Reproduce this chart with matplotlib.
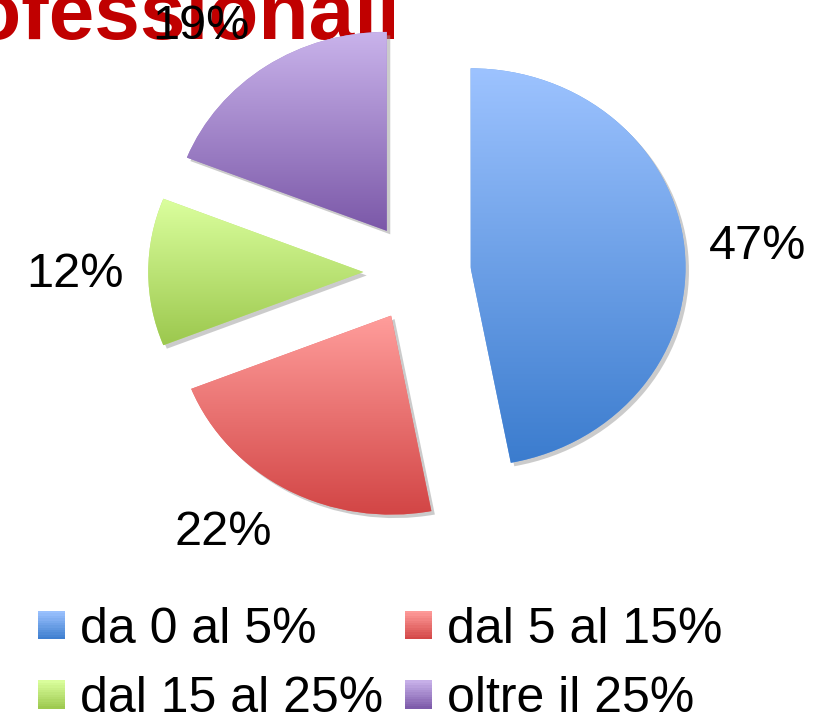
import numpy as np
import matplotlib
matplotlib.use('Agg')
import matplotlib.pyplot as plt
from matplotlib.colors import LinearSegmentedColormap, to_rgb
from matplotlib.legend_handler import HandlerBase
from matplotlib.patches import Rectangle
import matplotlib.patheffects as pe

plt.rcParams['font.family'] = ['Liberation Sans', 'DejaVu Sans']

# data
categories = ['da 0 al 5%', 'dal 5 al 15%', 'dal 15 al 25%', 'oltre il 25%']
values = [47, 22, 12, 19]
top_colors = ['#9DC3FF', '#FF9D9B', '#DBFF9E', '#C9B3EB']
bottom_colors = ['#3B7CCE', '#D24545', '#9CC84E', '#7B58A8']
title = 'professionali'

# label placement tweaks (degrees off the slice middle, distance from centre)
label_shift = [-0.7, -5.8, 0.4, 5.0]
label_dist = 1.59

W, H = 830, 718
fig = plt.figure(figsize=(W / 100, H / 100), dpi=100)
ax = fig.add_axes([0, 0, 1, 1])
ax.patch.set_visible(False)

mid_colors = [(np.array(to_rgb(t)) + np.array(to_rgb(b))) / 2 for t, b in zip(top_colors, bottom_colors)]

wedges, texts, autotexts = ax.pie(values, startangle=90, counterclock=False,
                                  explode=[0.25] * 4, colors=mid_colors,
                                  autopct='%.0f%%', pctdistance=1.34,
                                  textprops={'fontsize': 35, 'color': 'black'})

for w, t, s in zip(wedges, autotexts, label_shift):
    ang = np.deg2rad((w.theta1 + w.theta2) / 2 + s)
    t.set_position((label_dist * np.cos(ang), label_dist * np.sin(ang)))
    t.set_zorder(5)

# pie centre at (417, 272) px, slightly wider than tall
cx, cy, sx, sy = 417, 272, 215, 199

grad = np.linspace(0, 1, 256).reshape(-1, 1)
for w, t, b in zip(wedges, top_colors, bottom_colors):
    w.set_path_effects([pe.SimplePatchShadow(offset=(2.5, -2.5), shadow_rgbFace='#999999', alpha=0.5), pe.Normal()])
    ext = w.get_path().get_extents()
    cmap = LinearSegmentedColormap.from_list('g', [b, t])
    im = ax.imshow(grad, cmap=cmap, origin='lower', aspect='auto',
                   extent=[ext.x0, ext.x1, ext.y0, ext.y1], zorder=w.get_zorder() + 0.1,
                   interpolation='bilinear')
    im.set_clip_path(w)

ax.set_aspect('auto')
ax.set_xlim(-cx / sx, (W - cx) / sx)
ax.set_ylim(-(H - cy) / sy, cy / sy)
ax.axis('off')


class GradHandle:
    def __init__(self, top, bottom):
        self.top = top
        self.bottom = bottom


class GradHandler(HandlerBase):
    def create_artists(self, legend, orig_handle, xdescent, ydescent, width, height, fontsize, trans):
        cmap = LinearSegmentedColormap.from_list('g', [orig_handle.bottom, orig_handle.top])
        n = 12
        arts = []
        for i in range(n):
            r = Rectangle((-xdescent, -ydescent + i * height / n), width, height / n + 0.3,
                          facecolor=cmap((i + 0.5) / n), edgecolor='none', transform=trans)
            arts.append(r)
        return arts


handles = [GradHandle(t, b) for t, b in zip(top_colors, bottom_colors)]
order = [0, 2, 1, 3]
leg = fig.legend([handles[i] for i in order], [categories[i] for i in order],
                 handler_map={GradHandle: GradHandler()},
                 loc='upper left', bbox_to_anchor=(38 / W, 1 - 607 / H),
                 ncol=2, frameon=False, fontsize=36, handlelength=0.53, handleheight=0.49,
                 handletextpad=0.3, columnspacing=0.45, labelspacing=0.47, borderpad=0,
                 borderaxespad=0)

fig.text(400 / W, 1 - 39 / H, title, ha='right', va='baseline', fontsize=59,
         fontweight='bold', color='#C00000', zorder=-1)

fig.savefig('out.png', dpi=100, facecolor='white')
